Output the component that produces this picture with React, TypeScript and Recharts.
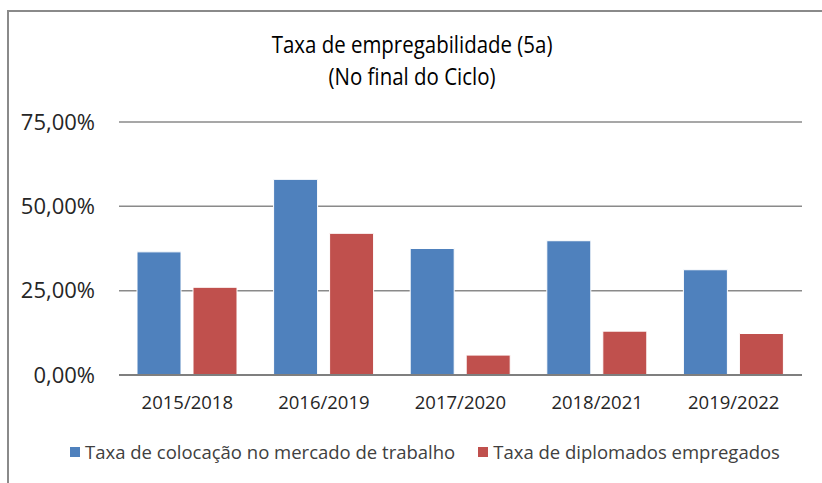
import { BarChart, Bar, XAxis, YAxis, CartesianGrid, Legend } from "recharts";

const periods = ["2015/2018", "2016/2019", "2017/2020", "2018/2021", "2019/2022"];
const colocacao = [36.5, 58.0, 37.5, 39.8, 31.2];
const diplomados = [26.0, 42.0, 5.9, 13.0, 12.3];
const yTicks = [0, 25, 50, 75];

const seriesNames = {
  colocacao: "Taxa de colocação no mercado de trabalho",
  diplomados: "Taxa de diplomados empregados",
};

const BLUE = "#4F81BD";
const RED = "#C0504D";
const FONT = "'Open Sans', sans-serif";

const data = periods.map((p, i) => ({
  periodo: p,
  colocacao: colocacao[i],
  diplomados: diplomados[i],
}));

const fmtPct = (v: number) => v.toFixed(2).replace(".", ",") + "%";

const LegendContent = () => (
  <div style={{ display: "flex", justifyContent: "center", fontFamily: FONT, fontSize: 18.5, color: "#404040" }}>
    {[
      { name: seriesNames.colocacao, color: BLUE },
      { name: seriesNames.diplomados, color: RED },
    ].map((it, i) => (
      <div key={i} style={{ display: "flex", alignItems: "center", marginRight: i === 0 ? 23 : 0 }}>
        <span style={{ width: 10, height: 10, background: it.color, marginRight: 5, display: "inline-block" }} />
        <span>{it.name}</span>
      </div>
    ))}
  </div>
);

export default function App() {
  return (
    <div style={{ position: "absolute", left: 0, top: 0, width: 822, height: 483, background: "#fff", overflow: "hidden" }}>
      <div
        style={{
          position: "absolute",
          left: 7,
          top: 10,
          right: -10,
          bottom: -10,
          borderLeft: "2px solid #8a8a8a",
          borderTop: "2px solid #8a8a8a",
        }}
      />
      <div
        style={{
          position: "absolute",
          left: 0,
          top: 28,
          width: 822,
          textAlign: "center",
          fontFamily: FONT,
          fontSize: 23.5,
          lineHeight: "32px",
          color: "#000",
          transform: "scaleX(0.87)",
          transformOrigin: "419px 0",
        }}
      >
        Taxa de empregabilidade (5a)
        <br />
        (No final do Ciclo)
      </div>
      <BarChart
        width={822}
        height={483}
        data={data}
        margin={{ top: 122, right: 20, bottom: 68, left: 0 }}
        barSize={44}
        barGap={12}
        style={{ position: "absolute", left: 0, top: 0 }}
      >
        <CartesianGrid vertical={false} stroke="#8a8a8a" strokeWidth={1.5} />
        <XAxis
          dataKey="periodo"
          axisLine={{ stroke: "#7f7f7f", strokeWidth: 2 }}
          tickLine={false}
          tickSize={0}
          tickMargin={21}
          height={40}
          interval={0}
          tick={{ fontFamily: FONT, fontSize: 18.5, fill: "#262626" }}
        />
        <YAxis
          width={119}
          domain={[0, 75]}
          ticks={yTicks}
          tickFormatter={fmtPct}
          axisLine={false}
          tickLine={false}
          tickSize={0}
          tickMargin={24}
          tick={{ fontFamily: FONT, fontSize: 22, fill: "#262626" }}
        />
        <Bar dataKey="colocacao" name={seriesNames.colocacao} fill={BLUE} stroke="#ffffff" strokeWidth={1} isAnimationActive={false} />
        <Bar dataKey="diplomados" name={seriesNames.diplomados} fill={RED} stroke="#ffffff" strokeWidth={1} isAnimationActive={false} />
        <Legend
          verticalAlign="middle"
          layout="horizontal"
          wrapperStyle={{ top: 439, left: 14, width: 822 }}
          content={<LegendContent />}
        />
      </BarChart>
    </div>
  );
}
